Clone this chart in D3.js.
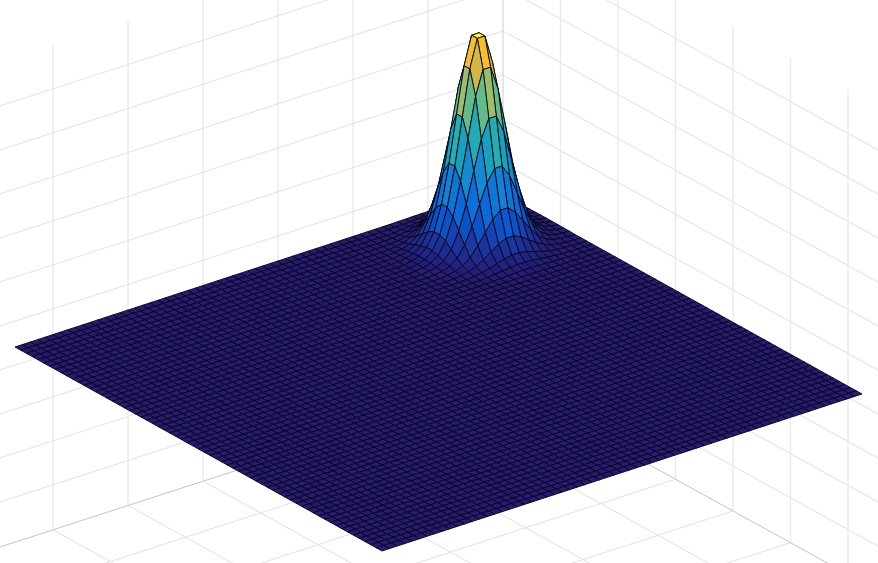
<!DOCTYPE html>
<html><head><meta charset="utf-8">
<script src="https://cdn.jsdelivr.net/npm/d3@7"></script>
<style>html,body{margin:0;padding:0;background:#fff}svg{display:block}</style>
</head><body>
<svg id="c" width="878" height="563"></svg>
<script>
// number of cells per side of the surface grid
const cellCount = 64;
// where the summit sits on the grid (the summit lies between four vertices)
const summitCell = [54, 9];
// heights, by cell distance from the summit
const peakHeights = [
 [1,.865,.645,.42,.235,.115,.05,.02,.008,.002],
 [.865,.748,.558,.363,.203,.099,.043,.017,.007,.002],
 [.645,.558,.416,.271,.152,.074,.032,.013,.005,.001],
 [.42,.363,.271,.176,.099,.048,.021,.008,.003,.001],
 [.235,.203,.152,.099,.055,.027,.012,.005,.002,0],
 [.115,.099,.074,.048,.027,.013,.006,.002,.001,0],
 [.05,.043,.032,.021,.012,.006,.003,.001,0,0],
 [.02,.017,.013,.008,.005,.002,.001,0,0,0],
 [.008,.007,.005,.003,.002,.001,0,0,0,0],
 [.002,.002,.001,.001,0,0,0,0,0,0]
];
// parula colour stops
const parulaStops = ["#261a78","#0a5fdc","#1485d4","#1aa5bc","#38b99e","#92bf73","#d6b545","#f9bf2a","#f9fb15"];
// wall tick indices
const leftWallTicks = [0,1,2,3,4,5,6];
const rightWallTicks = [0,1,2,3,4,5,6];
const heightTicks = [-2,-1,0,1,2,3,4,5,6,7];
const floorLevel = 8;
const topLevel = -3;

const svg = d3.select("#c");
const line = d3.line();
svg.append("defs").append("filter").attr("id","soft")
  .attr("x",0).attr("y",0)
  .attr("filterUnits","userSpaceOnUse").attr("width",878).attr("height",563)
  .append("feGaussianBlur").attr("stdDeviation",0.4);
const root = svg.append("g").attr("filter","url(#soft)");
root.append("rect").attr("width",878).attr("height",563).attr("fill","#fff");

// ----- surface projection
const plateX = d3.scaleLinear().domain([0,cellCount]).range([0,480]);   // i axis, x
const plateXj = d3.scaleLinear().domain([0,cellCount]).range([0,367]);  // j axis, x
const plateY = d3.scaleLinear().domain([0,cellCount]).range([0,-157]);  // i axis, y
const plateYj = d3.scaleLinear().domain([0,cellCount]).range([0,204]);  // j axis, y
const heightPx = d3.scaleLinear().domain([0,1]).range([0,208]);
const origin = [15,347];

function height(i,j){
  const a = i <= summitCell[0] ? summitCell[0]-i : i-summitCell[0]-1;
  const b = j <= summitCell[1] ? summitCell[1]-j : j-summitCell[1]-1;
  return (a < peakHeights.length && b < peakHeights.length) ? peakHeights[a][b] : 0;
}
function project(i,j){
  return [origin[0]+plateX(i)+plateXj(j), origin[1]+plateY(i)+plateYj(j)-heightPx(height(i,j))];
}
const colour = d3.scaleLinear()
  .domain(d3.range(parulaStops.length).map(d=>d/(parulaStops.length-1)*1.0))
  .range(parulaStops).clamp(true);

// ----- box walls and floor
const corner = [503,384];
const leftStep = d3.scaleLinear().domain([0,1]).range([0,-75]);
const rightStep = d3.scaleLinear().domain([0,1]).range([0,57.5]);
const levelY = d3.scaleLinear().domain([0,1]).range([31,75]);
const slopeL = -0.324, slopeR = 0.552;
const gridG = root.append("g").attr("fill","none");
function seg(p,q,stroke,w){ gridG.append("path").attr("d",line([p,q])).attr("stroke",stroke).attr("stroke-width",w); }

// floor lines
d3.range(0,8).forEach(k=>{
  const x = corner[0]+leftStep(k), y = corner[1]+(x-corner[0])*slopeL;
  if(k>0) seg([x,y],[x+700,y+700*slopeR],"#e0e0e0",1);
});
d3.range(1,7).forEach(k=>{
  const x = corner[0]+rightStep(k), y = corner[1]+(x-corner[0])*slopeR;
  seg([x,y],[x-800,y+800*(-slopeL)],"#e0e0e0",1);
});
// left wall
heightTicks.forEach(k=>{
  const y = levelY(k);
  seg([503,y],[-10,y+513*(-slopeL)],"#e2e2e2",1);
});
leftWallTicks.slice(1).forEach(k=>{
  const x = corner[0]+leftStep(k);
  const dy = (x-corner[0])*slopeL;
  seg([x,levelY(topLevel)+dy],[x,levelY(floorLevel)+dy],"#e2e2e2",1);
});
// right wall
heightTicks.forEach(k=>{
  const y = levelY(k);
  seg([503,y],[890,y+387*slopeR],"#eaeaea",1.4);
});
rightWallTicks.slice(1).forEach(k=>{
  const x = corner[0]+rightStep(k);
  const dy = (x-corner[0])*slopeR;
  seg([x,levelY(topLevel)+dy],[x,levelY(floorLevel)+dy],"#eaeaea",1.4);
});
// corner and floor edges
seg([503,0],[503,corner[1]],"#dcdcdc",1.4);
seg(corner,[-10,corner[1]+513*(-slopeL)],"#c4c4c4",1);
seg(corner,[890,corner[1]+387*slopeR],"#c4c4c4",1);

// ----- surface, painted from the back corner forward
const faces = [];
for(let j=0;j<cellCount;j++){
  for(let i=cellCount-1;i>=0;i--){
    const c=[[i,j],[i+1,j],[i+1,j+1],[i,j+1]];
    faces.push({pts:c.map(p=>project(p[0],p[1])), z:d3.min(c,p=>height(p[0],p[1]))});
  }
}
root.append("g").attr("stroke","#050510").attr("stroke-width",0.9).attr("stroke-linejoin","round")
  .selectAll("path").data(faces).join("path")
  .attr("d",d=>line(d.pts)+"Z")
  .attr("fill",d=>colour(d.z));
</script>
</body></html>
